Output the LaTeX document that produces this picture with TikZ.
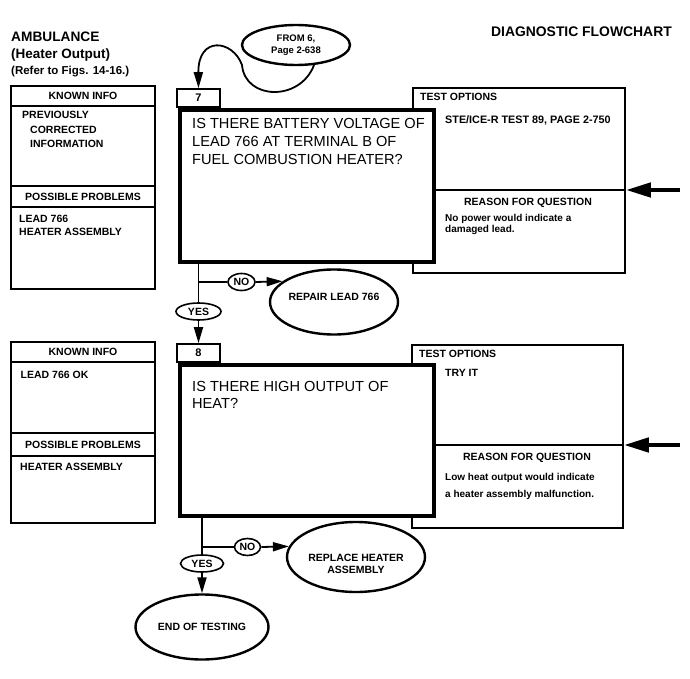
\documentclass[tikz,border=0pt]{standalone}
\usepackage{fontspec}
\setmainfont{Liberation Sans}
\usetikzlibrary{arrows.meta,shapes.geometric}
\begin{document}
\begin{tikzpicture}[x=1pt,y=-1pt,
  bf/.style={font=\bfseries\fontsize{10.5}{12.5}\selectfont},
  txt/.style={inner sep=0pt, text depth=0pt, bf},
  qtext/.style={inner sep=0pt, anchor=north west, align=left},
  thinbox/.style={draw, line width=1.6pt, inner sep=0pt, fill=white},
  thickbox/.style={draw, line width=4.5pt, inner sep=0pt, fill=white},
  oval/.style={draw, ellipse, line width=2.4pt, inner sep=0pt, bf, align=center, fill=white},
  smalloval/.style={draw, ellipse, line width=1.6pt, inner sep=0pt, bf, fill=white},
  conn/.style={line width=1.8pt},
  arr/.style={conn, -{Triangle[length=16pt,width=9pt]}},
  bigarr/.style={line width=4.5pt, -{Triangle[length=25pt,width=14pt]}},
]
\useasboundingbox (0,0) rectangle (690,679);

% ---------- titles ----------
\node[txt, anchor=west, font=\bfseries\fontsize{13.7}{16}\selectfont] (t1) at (11,37) {AMBULANCE};
\node[txt, anchor=west, font=\bfseries\fontsize{13.5}{16}\selectfont] (t2) at (11,53.7) {(Heater Output)};
\node[txt, anchor=west, font=\bfseries\fontsize{11.5}{14}\selectfont] (t3) at (11,70.3) {(Refer to Figs. 14-16.)};
\node[txt, anchor=east, font=\bfseries\fontsize{13.9}{16}\selectfont] (t4) at (672,32) {DIAGNOSTIC FLOWCHART};

% ---------- step 7 ----------
\node[thinbox, minimum width=144pt, minimum height=203pt] (ki7) at (83,187.5) {};
\node[thinbox, txt, minimum width=144pt, minimum height=20pt] (kih7) at (83,96) {KNOWN INFO};
\node[thinbox, txt, minimum width=144pt, minimum height=21pt] (pph7) at (83,196.5) {POSSIBLE PROBLEMS};
\node[txt, anchor=west] (ki7a) at (22,115.2) {PREVIOUSLY};
\node[txt, anchor=west] (ki7b) at (30,129.7) {CORRECTED};
\node[txt, anchor=west] (ki7c) at (30,144.2) {INFORMATION};
\node[txt, anchor=west] (pp7a) at (19,219.2) {LEAD 766};
\node[txt, anchor=west] (pp7b) at (19,232.2) {HEATER ASSEMBLY};

\node[thinbox, minimum width=212pt, minimum height=185pt] (to7) at (519,180.5) {};
\node[thinbox, txt, font=\bfseries\fontsize{11}{13}\selectfont, minimum width=43pt, minimum height=18pt] (s7) at (198.5,98) {7};
\node[thickbox, minimum width=254pt, minimum height=152pt] (q7) at (307,186) {};
\node[qtext, font=\fontsize{14.6}{18.3}\selectfont] (q7t) at (192,118)
  {IS THERE BATTERY VOLTAGE OF\\LEAD 766 AT TERMINAL B OF\\FUEL COMBUSTION HEATER?};
\coordinate (d7) at (530,190);
\coordinate (a7) at (680,190);
\draw[line width=1.6pt] (q7.east |- d7) -- (to7.east |- d7);
\draw[bigarr] (a7) -- (to7.east |- d7);
\node[txt, anchor=west] (to7h) at (420,97) {TEST OPTIONS};
\node[txt, anchor=west, font=\bfseries\fontsize{10.8}{12.5}\selectfont] (to7t) at (445,120) {STE/ICE-R TEST 89, PAGE 2-750};
\node[txt] (rq7h) at (528,202) {REASON FOR QUESTION};
\node[qtext, font=\bfseries\fontsize{10}{11.7}\selectfont] (rq7t) at (445,213.7) {No power would indicate a\\damaged lead.};

% from 6
\node[oval, font=\bfseries\fontsize{9.5}{12}\selectfont, minimum width=108pt, minimum height=40pt] (fr6) at (296,45) {FROM 6,\\Page 2-638};
\draw[arr] (fr6.-48) .. controls (300,102) and (245,100) .. (242,65) .. controls (233,40) and (198,35) .. (s7.north);

% branch 7
\coordinate (j7) at (198.5,282);
\node[smalloval, minimum width=45pt, minimum height=17pt] (yes7) at (198.5,311.5) {YES};
\node[smalloval, minimum width=27pt, minimum height=17pt] (no7) at (241.5,282) {NO};
\node[oval, minimum width=128pt, minimum height=65pt] (rep7) at (334,302) {};
\node[txt] (rep7t) at (334,297) {REPAIR LEAD 766};
\draw[conn] (q7.south -| j7) -- (yes7.north);
\draw[conn] (j7) -- (no7.west);
\draw[arr] (no7.east) -- (rep7.158);

% ---------- step 8 ----------
\node[thinbox, minimum width=144pt, minimum height=181pt] (ki8) at (83,432.5) {};
\node[thinbox, txt, minimum width=144pt, minimum height=20pt] (kih8) at (83,352) {KNOWN INFO};
\node[thinbox, txt, minimum width=144pt, minimum height=23pt] (pph8) at (83,444.5) {POSSIBLE PROBLEMS};
\node[txt, anchor=west] (ki8a) at (20.5,374.5) {LEAD 766 OK};
\node[txt, anchor=west] (pp8a) at (20,467) {HEATER ASSEMBLY};

\node[thinbox, minimum width=211pt, minimum height=183pt] (to8) at (517.5,436.5) {};
\node[thinbox, txt, font=\bfseries\fontsize{11}{13}\selectfont, minimum width=43pt, minimum height=18pt] (s8) at (198.5,353) {8};
\node[thickbox, minimum width=254pt, minimum height=151pt] (q8) at (307,440.5) {};
\node[qtext, font=\fontsize{14.6}{16.7}\selectfont] (q8t) at (192,381.4)
  {IS THERE HIGH OUTPUT OF\\HEAT?};
\coordinate (d8) at (530,445);
\coordinate (a8) at (680,445);
\draw[line width=1.6pt] (q8.east |- d8) -- (to8.east |- d8);
\draw[bigarr] (a8) -- (to8.east |- d8);
\node[txt, anchor=west] (to8h) at (419,354) {TEST OPTIONS};
\node[txt, anchor=west] (to8t) at (445,373) {TRY IT};
\node[txt] (rq8h) at (527,457) {REASON FOR QUESTION};
\node[qtext, font=\bfseries\fontsize{10}{16.3}\selectfont] (rq8t) at (445,473.3) {Low heat output would indicate\\a heater assembly malfunction.};

\draw[arr] (yes7.south) -- (yes7.south |- s8.north);

% branch 8
\coordinate (j8) at (202,547);
\node[smalloval, minimum width=43pt, minimum height=17pt] (yes8) at (202,563.5) {YES};
\node[smalloval, minimum width=26pt, minimum height=17pt] (no8) at (247.5,547) {NO};
\node[oval, minimum width=138pt, minimum height=70pt] (rep8) at (356,557) {};
\node[txt, align=center] (rep8t) at (356,564) {REPLACE HEATER\\ASSEMBLY};
\node[oval, minimum width=133pt, minimum height=65pt] (endt) at (202,627) {END OF TESTING};
\draw[conn] (q8.south -| j8) -- (yes8.north);
\draw[conn] (j8) -- (no8.west);
\draw[arr] (no8.east) -- (rep8.171);
\draw[arr] (yes8.south) -- (endt.north);

\end{tikzpicture}
\end{document}
